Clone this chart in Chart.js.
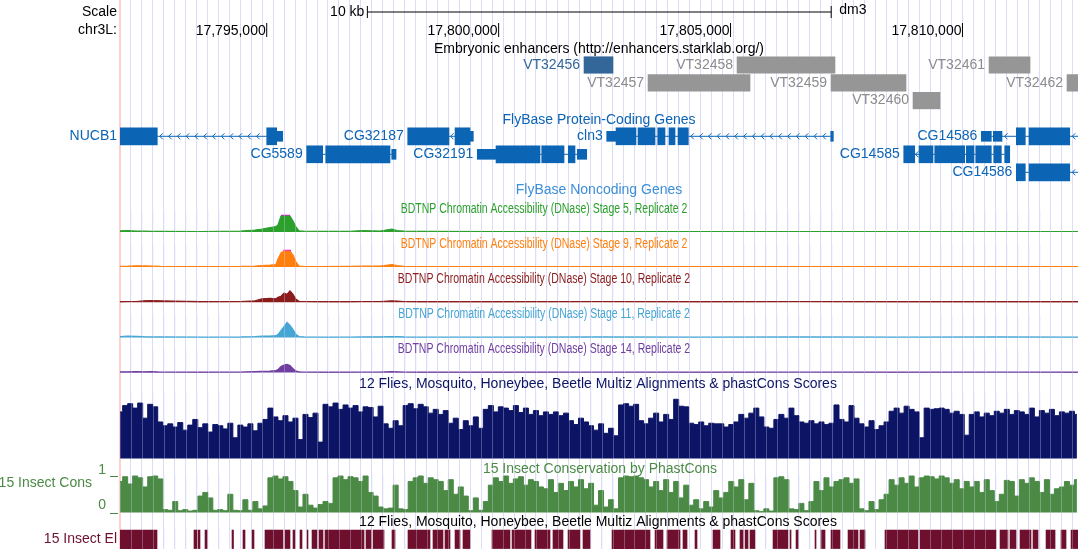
<!DOCTYPE html>
<html>
<head>
<meta charset="utf-8">
<script src="https://cdn.jsdelivr.net/npm/chart.js@4.4.1/dist/chart.umd.min.js"></script>
<style>
html, body { margin: 0; padding: 0; background: #fff; }
canvas { display: block; }
</style>
</head>
<body>
<canvas id="browser" width="1078" height="549"></canvas>
<script>
// visible window, chr3L (dm3)
const viewStart = 17791837
const viewEnd = 17812491
const assembly = 'dm3'

const rulerTicks = [17795000, 17800000, 17805000, 17810000]
const scaleBarStart = 17797170
const scaleBarLength = 10000

// Embryonic enhancers
const enhNames = ['VT32456', 'VT32457', 'VT32458', 'VT32459', 'VT32460', 'VT32461', 'VT32462']
const enhStarts = [17801841, 17803221, 17805140, 17807166, 17808934, 17810573, 17812254]
const enhEnds = [17802466, 17805420, 17807252, 17808783, 17809516, 17811457, 17813100]
const enhRows = [0, 1, 0, 1, 2, 0, 1]
const enhActive = [1, 0, 0, 0, 0, 0, 0]

// FlyBase protein-coding genes, exons as [start, end, coding]
const geneNames = ['NUCB1', 'CG5589', 'CG32187', 'CG32191', 'cln3', 'CG14585', 'CG14586', 'CG14586']
const geneRows = [0, 1, 0, 1, 0, 1, 0, 2]
const geneStrand = ['-', '-', '-', '+', '-', '-', '-', '-']
const geneExons = [
  [[17791200, 17792641, 1], [17795000, 17795215, 1], [17795215, 17795345, 0]],
  [[17795862, 17796207, 1], [17796272, 17797658, 1], [17797695, 17797788, 0]],
  [[17798040, 17798930, 1], [17799060, 17799383, 1], [17799383, 17799454, 0]],
  [[17799540, 17799944, 0], [17799944, 17800892, 1], [17800929, 17801410, 1], [17801502, 17801647, 1], [17801696, 17801899, 0]],
  [[17802330, 17802531, 0], [17802531, 17802962, 1], [17803005, 17803372, 1], [17803430, 17803587, 1], [17803673, 17803803, 1], [17803867, 17804090, 1], [17807160, 17807216, 0]],
  [[17808734, 17808971, 1], [17809063, 17809365, 1], [17809402, 17810049, 1], [17810083, 17810249, 1], [17810286, 17810622, 1], [17810674, 17810838, 1], [17810911, 17811019, 1]],
  [[17810407, 17810622, 0], [17810665, 17810853, 0], [17811161, 17811355, 1], [17811435, 17812313, 1], [17813000, 17813300, 1]],
  [[17811161, 17811355, 1], [17811435, 17812313, 1], [17813000, 17813300, 1]]
]

// BDTNP DNase accessibility, view limit 16
const dnasePos = [17791837, 17792009, 17792182, 17792354, 17792527, 17792699, 17793562, 17794424, 17794748, 17794899,
  17795071, 17795200, 17795243, 17795308, 17795373, 17795438, 17795502, 17795567, 17795632, 17795696,
  17795804, 17796149, 17796796, 17797055, 17797443, 17797701, 17797809, 17797960, 17798305, 17800030,
  17802186, 17804342, 17806498, 17808654, 17810810, 17812491]
const stage5 = [1.2, 1.5, 1.0, 0.8, 0.6, 0.6, 0.5, 0.8, 2.0, 3.0, 4.5, 5.5, 7, 16, 16, 16, 16, 11, 5, 1.2,
  0.8, 0.6, 0.6, 1.5, 1.0, 3.0, 1.5, 0.8, 0.6, 0.5, 0.5, 0.5, 0.5, 0.5, 0.5, 0.5]
const stage9 = [0.6, 0.8, 1.2, 1.2, 1.0, 0.6, 0.5, 0.6, 1.0, 1.5, 1.8, 2.5, 8, 14, 16, 16, 16, 12, 5, 1.0,
  0.6, 0.5, 0.6, 0.8, 1.0, 2.5, 1.5, 0.6, 0.5, 0.5, 0.5, 0.5, 0.5, 0.5, 0.5, 0.5]
const stage10 = [0.6, 0.8, 0.8, 1.5, 1.8, 1.5, 0.6, 0.8, 1.5, 3.5, 4.0, 3.5, 5, 6, 9, 8, 11.5, 8, 3, 1.0,
  0.8, 0.6, 0.6, 0.8, 0.8, 1.5, 1.2, 0.8, 0.6, 0.6, 0.8, 0.6, 0.8, 0.6, 0.6, 0.6]
const stage11 = [0.8, 1.5, 1.2, 0.8, 0.6, 0.6, 0.5, 0.6, 1.0, 1.5, 1.5, 2.0, 3, 7, 11, 15, 12, 8, 3, 1.0,
  0.6, 0.5, 0.5, 0.6, 0.7, 1.0, 0.8, 0.6, 0.5, 0.5, 0.6, 0.5, 0.6, 0.5, 0.6, 0.5]
const stage14 = [0.8, 0.8, 1.0, 0.8, 1.0, 0.6, 0.5, 0.6, 1.0, 1.2, 1.5, 2.0, 3, 6, 7.5, 8.3, 7, 4, 1.5, 0.8,
  0.6, 0.5, 0.5, 0.6, 0.6, 1.0, 0.8, 0.6, 0.5, 0.5, 0.6, 0.5, 0.6, 0.5, 0.6, 0.5]
const stage5Clip = [17795308, 17795502]
const stage9Clip = [17795360, 17795525]

// multiz / phastCons, fixed step
const consStart = 17791840
const consStep = 108
const multiz = [
  0.74, 0.84, 0.87, 0.80, 0.88, 0.64, 0.86, 0.82, 0.58, 0.52,
  0.55, 0.50, 0.57, 0.45, 0.53, 0.62, 0.49, 0.55, 0.42, 0.54,
  0.52, 0.47, 0.56, 0.33, 0.53, 0.50, 0.55, 0.44, 0.56, 0.62,
  0.80, 0.66, 0.60, 0.68, 0.58, 0.64, 0.30, 0.70, 0.65, 0.72,
  0.26, 0.86, 0.82, 0.88, 0.78, 0.85, 0.80, 0.84, 0.74, 0.82,
  0.81, 0.66, 0.83, 0.55, 0.48, 0.60, 0.52, 0.84, 0.87, 0.79,
  0.86, 0.82, 0.72, 0.78, 0.70, 0.76, 0.56, 0.64, 0.46, 0.60,
  0.52, 0.66, 0.48, 0.78, 0.84, 0.74, 0.82, 0.80, 0.76, 0.84,
  0.73, 0.80, 0.70, 0.76, 0.68, 0.74, 0.70, 0.74, 0.68, 0.72,
  0.60, 0.54, 0.64, 0.58, 0.52, 0.45, 0.55, 0.40, 0.48, 0.36,
  0.85, 0.87, 0.83, 0.86, 0.60, 0.55, 0.64, 0.72, 0.58, 0.70,
  0.62, 0.94, 0.83, 0.82, 0.56, 0.54, 0.58, 0.52, 0.56, 0.55,
  0.55, 0.50, 0.54, 0.58, 0.70, 0.64, 0.72, 0.80, 0.66, 0.50,
  0.48, 0.62, 0.70, 0.64, 0.80, 0.68, 0.58, 0.56, 0.60, 0.55,
  0.58, 0.54, 0.56, 0.85, 0.62, 0.58, 0.84, 0.64, 0.55, 0.50,
  0.60, 0.46, 0.52, 0.58, 0.75, 0.80, 0.72, 0.83, 0.78, 0.74,
  0.33, 0.80, 0.78, 0.79, 0.80, 0.78, 0.72, 0.75, 0.70, 0.37,
  0.70, 0.74, 0.66, 0.72, 0.68, 0.75, 0.72, 0.78, 0.70, 0.76,
  0.74, 0.70, 0.80, 0.66, 0.76, 0.72, 0.78, 0.68, 0.74, 0.72,
  0.75, 0.70
]
const phastCons = [
  0.85, 0.98, 0.78, 1.00, 0.95, 0.70, 0.98, 1.00, 0.92, 0.08,
  0.06, 0.30, 0.05, 0.08, 0.04, 0.06, 0.45, 0.55, 0.40, 0.06,
  0.08, 0.05, 0.50, 0.06, 0.05, 0.35, 0.06, 0.30, 0.10, 0.18,
  0.95, 1.00, 0.92, 0.98, 0.85, 0.60, 0.15, 0.50, 0.20, 0.12,
  0.22, 0.30, 0.25, 0.95, 1.00, 0.90, 0.98, 0.95, 0.85, 1.00,
  0.55, 0.45, 0.15, 0.10, 0.12, 0.75, 0.10, 0.08, 0.85, 0.95,
  1.00, 0.80, 0.95, 0.90, 0.85, 0.60, 0.90, 0.50, 0.70, 0.45,
  0.05, 0.40, 0.06, 0.30, 0.75, 0.95, 0.85, 1.00, 0.80, 0.92,
  0.98, 0.75, 0.90, 0.85, 0.70, 0.65, 0.90, 0.55, 0.80, 0.60,
  0.85, 0.70, 0.90, 0.65, 0.80, 0.20, 0.60, 0.15, 0.35, 0.10,
  0.95, 1.00, 0.98, 1.00, 0.95, 0.90, 0.70, 0.85, 0.60, 0.90,
  0.55, 0.85, 0.40, 0.75, 0.20, 0.35, 0.10, 0.30, 0.15, 0.60,
  0.40, 0.55, 0.85, 0.70, 0.90, 0.35, 0.80, 0.05, 0.03, 0.10,
  0.04, 0.95, 0.98, 0.90, 0.10, 0.08, 0.25, 0.05, 0.30, 0.85,
  0.60, 0.95, 0.70, 0.85, 0.90, 0.95, 0.80, 0.92, 0.10, 0.05,
  0.30, 0.08, 0.35, 0.50, 0.90, 0.75, 0.95, 0.80, 1.00, 0.70,
  0.95, 1.00, 0.98, 0.92, 1.00, 0.95, 0.80, 0.90, 0.65, 0.85,
  0.70, 0.85, 0.55, 0.90, 0.60, 0.30, 0.50, 0.88, 0.85, 0.45,
  0.90, 0.80, 0.95, 0.85, 0.55, 0.90, 0.50, 0.65, 0.70, 0.85,
  0.75, 0.90
]

// 15 insect conserved elements
const consElements = [
  [17791700, 17792635], [17793432, 17793497], [17793519, 17793562], [17793670, 17793713], [17794252, 17794284],
  [17794489, 17794532], [17794683, 17794726], [17794963, 17795351], [17795394, 17795502], [17795567, 17795610],
  [17795718, 17795761], [17795869, 17795890], [17795977, 17796084], [17796127, 17796214], [17796257, 17797098],
  [17797141, 17797249], [17797292, 17797529], [17797701, 17797766], [17798046, 17798521], [17798585, 17798801],
  [17798844, 17798952], [17799060, 17799167], [17799232, 17799383], [17799857, 17800245], [17800289, 17800698],
  [17800784, 17801108], [17801172, 17801388], [17801496, 17801755], [17801819, 17801970], [17802445, 17803264],
  [17803372, 17803544], [17803630, 17803911], [17803975, 17804062], [17804234, 17804277], [17804622, 17804773],
  [17805010, 17805096], [17805204, 17805269], [17805312, 17805377], [17805420, 17805528], [17805916, 17806239],
  [17806282, 17806304], [17806412, 17806455], [17806821, 17806843], [17806951, 17807037], [17807166, 17807360],
  [17807533, 17807748], [17807791, 17807899], [17808330, 17809042], [17809085, 17810724], [17810810, 17810982],
  [17811025, 17811155], [17811241, 17811478], [17811521, 17811629], [17811802, 17811996], [17812125, 17812233],
  [17812341, 17812600]
]

// colours
const geneBlue = '#0c64b4'
const navy = '#0c1466'
const consGreen = '#4a8a45'
const elMaroon = '#6e0f2e'
const dnaseColors = ['#2ca02c', '#ff7f0e', '#8b1c1c', '#45a5d4', '#6f3ea0']
const FONT = '14px "Liberation Sans", Arial, sans-serif'

// layout helpers: map a value range onto a pixel band of the 549px chart area
const H = 549
function band(pixTop, pixBottom, lo, hi) {
  const range = (hi - lo) * H / (pixBottom - pixTop)
  const max = hi + pixTop * range / H
  return { min: max - range, max: max }
}
function rows(firstCenter, spacing) {
  const min = -firstCenter / spacing
  return { min: min, max: min + H / spacing, reverse: true }
}
function hiddenY(range) {
  return Object.assign({ axis: 'y', type: 'linear', display: false, offset: false, beginAtZero: false, bounds: 'data' }, range)
}

const dnaseBands = [[216, 232], [251, 267], [286.3, 302.3], [321.5, 337.5], [356.6, 372.6]]
const guideStep = 236
// pixel bands where the guide lines show through the data
const washBands = [[210, 233], [245, 268], [280, 303], [315, 338], [350, 373], [393, 459], [474, 513], [529, 549]]

// [text, colour, y, centre x, horizontal squeeze]
const titles = [
  ['Embryonic enhancers (http://enhancers.starklab.org/)', '#000', 49.3, 599, 1],
  ['FlyBase Protein-Coding Genes', geneBlue, 120, 599, 1],
  ['FlyBase Noncoding Genes', '#3d8fd8', 190.5, 599, 1],
  ['BDTNP Chromatin Accessibility (DNase) Stage 5, Replicate 2', dnaseColors[0], 208.7, 544, 0.75],
  ['BDTNP Chromatin Accessibility (DNase) Stage 9, Replicate 2', dnaseColors[1], 243.7, 544, 0.75],
  ['BDTNP Chromatin Accessibility (DNase) Stage 10, Replicate 2', dnaseColors[2], 278.7, 544, 0.75],
  ['BDTNP Chromatin Accessibility (DNase) Stage 11, Replicate 2', dnaseColors[3], 313.7, 544, 0.75],
  ['BDTNP Chromatin Accessibility (DNase) Stage 14, Replicate 2', dnaseColors[4], 348.7, 544, 0.75],
  ['12 Flies, Mosquito, Honeybee, Beetle Multiz Alignments & phastCons Scores', navy, 384, 598, 1],
  ['15 Insect Conservation by PhastCons', consGreen, 469.3, 600, 1],
  ['12 Flies, Mosquito, Honeybee, Beetle Multiz Alignments & phastCons Scores', '#000', 522.2, 598, 1]
]

// build datasets
const pts = (pos, vals) => vals.map((v, i) => ({ x: pos[i], y: v }))
const stepPts = (vals) => vals.map((v, i) => ({ x: consStart + i * consStep, y: v }))

const cdsBars = [], utrBars = [], intronPts = []
geneExons.forEach((ex, g) => {
  ex.forEach(e => (e[2] ? cdsBars : utrBars).push({ x: [e[0], e[1]], y: geneRows[g] }))
  for (let i = 1; i < ex.length; i++) {
    if (ex[i][0] > ex[i - 1][1]) {
      intronPts.push({ x: ex[i - 1][1], y: geneRows[g] }, { x: ex[i][0], y: geneRows[g] }, { x: ex[i][0], y: null })
    }
  }
})

const bar = (data, yAxisID, color, thickness) => ({
  type: 'bar', indexAxis: 'y', grouped: false, xAxisID: 'x', yAxisID: yAxisID, data: data,
  backgroundColor: color, borderWidth: 0, barThickness: thickness
})
const line = (data, yAxisID, color, extra) => Object.assign({
  type: 'line', xAxisID: 'x', yAxisID: yAxisID, data: data, borderColor: color, backgroundColor: color,
  borderWidth: 1, pointRadius: 0, tension: 0, fill: false, spanGaps: false
}, extra)

const enhBars = enhNames.map((n, i) => ({ x: [enhStarts[i], enhEnds[i]], y: enhRows[i] }))

const datasets = [
  line([{ x: scaleBarStart, y: 0 }, { x: scaleBarStart + scaleBarLength, y: 0 }], 'yRuler', '#000',
    { pointStyle: 'line', pointRotation: 90, pointRadius: 6, pointBorderWidth: 1 }),
  line(rulerTicks.map(v => ({ x: v, y: 1 })), 'yRuler', '#000',
    { showLine: false, pointStyle: 'line', pointRotation: 90, pointRadius: 7, pointBorderWidth: 1 }),
  bar(enhBars.filter((d, i) => enhActive[i]), 'yEnh', '#336699', 16.5),
  bar(enhBars.filter((d, i) => !enhActive[i]), 'yEnh', '#969696', 16.5),
  line(intronPts, 'yGene', geneBlue),
  bar(cdsBars, 'yGene', geneBlue, 17),
  bar(utrBars, 'yGene', geneBlue, 10),
  ...[stage5, stage9, stage10, stage11, stage14].map((s, i) =>
    line(pts(dnasePos, s), 'yD' + i, dnaseColors[i], { fill: 'origin', borderWidth: 1.2 })),
  line(stage5Clip.map(v => ({ x: v, y: 16 })), 'yD0', '#ff00ff', { borderWidth: 2.5 }),
  line(stage9Clip.map(v => ({ x: v, y: 16 })), 'yD1', '#ff00ff', { borderWidth: 2.5 }),
  line(stepPts(multiz), 'yMz', navy, { fill: 'origin', stepped: 'middle' }),
  line(stepPts(phastCons), 'yPc', consGreen, { fill: 'origin', stepped: 'middle' }),
  bar(consElements.map(e => ({ x: e, y: 0 })), 'yEl', elMaroon, 18.5)
]

const scales = {
  x: {
    type: 'linear', min: viewStart, max: viewEnd, offset: false, bounds: 'data', beginAtZero: false,
    border: { display: false },
    ticks: { display: false },
    grid: {
      offset: false, drawTicks: false,
      color: c => c.index === 0 ? '#ffd0d0' : '#dcdcf8',
      lineWidth: c => c.index === 0 ? 2 : 1
    },
    afterBuildTicks: axis => {
      const t = []
      for (let v = viewStart; v < viewEnd; v += guideStep) t.push({ value: v })
      axis.ticks = t
    }
  },
  yRuler: hiddenY(rows(12, 18)),
  yEnh: hiddenY(rows(65, 17.8)),
  yGene: hiddenY(rows(136.3, 18)),
  yMz: hiddenY(band(395.5, 458.5, 0, 1)),
  yPc: hiddenY(band(476, 512.5, 0, 1)),
  yEl: hiddenY(rows(539.3, 18))
}
dnaseBands.forEach((b, i) => { scales['yD' + i] = hiddenY(band(b[0], b[1], 0, 16)) })

// guide lines showing through the wiggle tracks
const guideWash = {
  id: 'guideWash',
  afterDatasetsDraw(chart) {
    const c = chart.ctx
    const xs = chart.scales.x
    c.save()
    c.strokeStyle = 'rgba(225,225,255,0.3)'
    c.lineWidth = 1
    xs.ticks.forEach((t, i) => {
      if (i === 0) return
      const x = Math.round(xs.getPixelForValue(t.value)) + 0.5
      washBands.forEach(b => { c.beginPath(); c.moveTo(x, b[0]); c.lineTo(x, b[1]); c.stroke() })
    })
    c.restore()
  }
}

// text, chevrons and side labels
const labelLayer = {
  id: 'labelLayer',
  afterDatasetsDraw(chart) {
    const c = chart.ctx
    const xs = chart.scales.x
    const px = v => xs.getPixelForValue(v)
    c.save()
    c.font = FONT
    c.textBaseline = 'middle'
    const put = (s, x, y, color, align) => { c.fillStyle = color; c.textAlign = align; c.fillText(s, x, y) }

    const yr = chart.scales.yRuler
    put('Scale', 117, yr.getPixelForValue(0), '#000', 'right')
    put('chr3L:', 117, yr.getPixelForValue(1), '#000', 'right')
    put('10 kb', px(scaleBarStart) - 3, yr.getPixelForValue(0), '#000', 'right')
    put(assembly, px(scaleBarStart + scaleBarLength) + 8, yr.getPixelForValue(0) - 2, '#000', 'left')
    rulerTicks.forEach(v => put(v.toLocaleString('en-US'), px(v) - 1, yr.getPixelForValue(1) + 1, '#000', 'right'))

    titles.forEach(t => {
      c.save()
      c.translate(t[3], t[2])
      c.scale(t[4], 1)
      put(t[0], 0, 0, t[1], 'center')
      c.restore()
    })

    const ye = chart.scales.yEnh
    enhNames.forEach((n, i) => put(n, px(enhStarts[i]) - 4, ye.getPixelForValue(enhRows[i]), enhActive[i] ? '#336699' : '#8c8c8c', 'right'))

    const yg = chart.scales.yGene
    c.strokeStyle = geneBlue
    c.lineWidth = 1
    geneExons.forEach((ex, g) => {
      const y = yg.getPixelForValue(geneRows[g])
      const gx = px(ex[0][0])
      put(geneNames[g], gx < xs.left ? xs.left - 3 : gx - 4, y, geneBlue, 'right')
      if (geneStrand[g] !== '-') return
      for (let i = 1; i < ex.length; i++) {
        const a = Math.max(px(ex[i - 1][1]), xs.left), b = Math.min(px(ex[i][0]), xs.right)
        if (b - a < 4) continue
        const marks = []
        for (let m = a + 4; m < b - 3; m += 8.8) marks.push(m)
        if (!marks.length) marks.push((a + b) / 2)
        marks.forEach(m => {
          c.beginPath()
          c.moveTo(m + 1.5, y - 3)
          c.lineTo(m - 1.5, y)
          c.lineTo(m + 1.5, y + 3)
          c.stroke()
        })
      }
    })

    const yp = chart.scales.yPc
    put('15 Insect Cons', 92, 483.3, consGreen, 'right')
    put('1', 106, yp.getPixelForValue(1) - 6, consGreen, 'right')
    put('0', 106, yp.getPixelForValue(0) - 7, consGreen, 'right')
    c.strokeStyle = consGreen
    ;[1, 0].forEach(v => {
      const y = Math.round(yp.getPixelForValue(v)) + 0.5
      c.beginPath(); c.moveTo(110, y); c.lineTo(118, y); c.stroke()
    })
    put('15 Insect El', 117, chart.scales.yEl.getPixelForValue(0), elMaroon, 'right')
    c.restore()
  }
}

const browser = new Chart(document.getElementById('browser').getContext('2d'), {
  type: 'bar',
  data: { datasets },
  options: {
    responsive: false,
    maintainAspectRatio: false,
    animation: false,
    devicePixelRatio: 1,
    events: [],
    layout: { autoPadding: false, padding: { left: 120, right: 0, top: 0, bottom: 0 } },
    plugins: { legend: { display: false }, tooltip: { enabled: false }, title: { display: false } },
    scales
  },
  plugins: [guideWash, labelLayer]
})
</script>
</body>
</html>
